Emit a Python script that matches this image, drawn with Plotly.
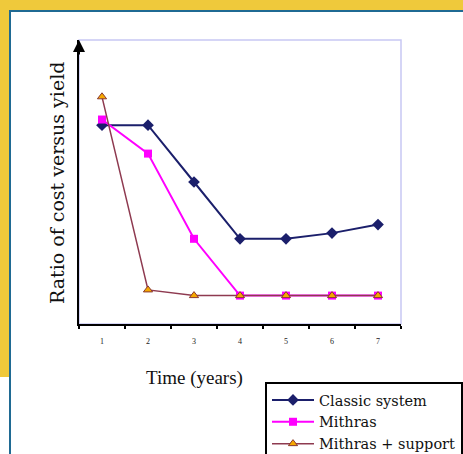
import plotly.graph_objects as go

years = ["1", "2", "3", "4", "5", "6", "7"]
classic = [7.0, 7.0, 5.0, 3.0, 3.0, 3.2, 3.5]
mithras = [7.2, 6.0, 3.0, 1.0, 1.0, 1.0, 1.0]
support = [8.0, 1.2, 1.0, 1.0, 1.0, 1.0, 1.0]
series_names = ["Classic system", "Mithras", "Mithras + support"]

W, H = 463, 454
L, T, R, B = 79, 40, 401, 324
PW, PH = R - L, B - T


def px(x):
    return (x - L) / PW


def py(y):
    return (B - y) / PH


fig = go.Figure()
fig.add_trace(go.Scatter(x=years, y=classic, name=series_names[0], mode="lines+markers",
                         line=dict(color="#1b1f6b", width=2),
                         marker=dict(symbol="diamond", size=9, color="#1b1f6b")))
fig.add_trace(go.Scatter(x=years, y=mithras, name=series_names[1], mode="lines+markers",
                         line=dict(color="#ff00ff", width=2),
                         marker=dict(symbol="square", size=8, color="#ff00ff")))
fig.add_trace(go.Scatter(x=years, y=support, name=series_names[2], mode="lines+markers",
                         line=dict(color="#8e3a50", width=1.5),
                         marker=dict(symbol="triangle-up", size=8, color="#f6a800",
                                     line=dict(color="#8a3a30", width=1))))

shapes = [
    dict(type="rect", xref="paper", yref="paper", layer="below",
         x0=px(10), x1=px(480), y0=py(480), y1=py(11),
         fillcolor="white", line=dict(color="#1f6a93", width=2)),
    dict(type="rect", xref="paper", yref="paper", layer="below",
         x0=px(-5), x1=px(9), y0=py(480), y1=py(377),
         fillcolor="white", line=dict(width=0)),
    dict(type="rect", xref="paper", yref="paper", layer="below",
         x0=0, x1=1, y0=0, y1=1,
         fillcolor="white", line=dict(color="#c8c8f4", width=1.5)),
]

annotations = [
    dict(text="Ratio of cost versus yield", xref="paper", yref="paper",
         x=px(57), y=py(183), textangle=-90, showarrow=False,
         xanchor="center", yanchor="middle",
         font=dict(family="DejaVu Serif", size=19, color="#111111")),
    dict(text="Time (years)", xref="paper", yref="paper",
         x=px(194), y=py(378), showarrow=False,
         xanchor="center", yanchor="middle",
         font=dict(family="Liberation Serif", size=19, color="#111111")),
    dict(text="", xref="paper", yref="paper", x=0, y=1.0,
         showarrow=True, ax=0, ay=16, axref="pixel", ayref="pixel",
         arrowhead=2, arrowsize=1.2, arrowwidth=2, arrowcolor="black"),
]

fig.update_layout(
    width=W, height=H,
    margin=dict(l=L, r=W - R, t=T, b=H - B, autoexpand=False),
    paper_bgcolor="#efc93b",
    plot_bgcolor="rgba(0,0,0,0)",
    shapes=shapes,
    annotations=annotations,
    showlegend=True,
    legend=dict(x=px(265), y=py(382), xanchor="left", yanchor="top",
                bgcolor="white", bordercolor="black", borderwidth=2,
                font=dict(family="DejaVu Serif", size=14.5, color="#111111"),
                itemwidth=42, tracegroupgap=0),
    xaxis=dict(type="category", tickson="boundaries", showgrid=False, zeroline=False,
               showline=True, linecolor="black", linewidth=2,
               ticks="outside", ticklen=3, tickwidth=2, tickcolor="black",
               ticklabelstandoff=8,
               tickfont=dict(family="Liberation Serif", size=8, color="#1a1a1a"),
               range=[-0.5, 6.5]),
    yaxis=dict(range=[0, 10], showgrid=False, zeroline=False,
               showline=True, linecolor="black", linewidth=2,
               showticklabels=False, ticks=""),
)

fig.write_html("out.html", config={"displayModeBar": False},
               post_script="document.body.style.margin='0px';document.body.style.overflow='hidden';")
